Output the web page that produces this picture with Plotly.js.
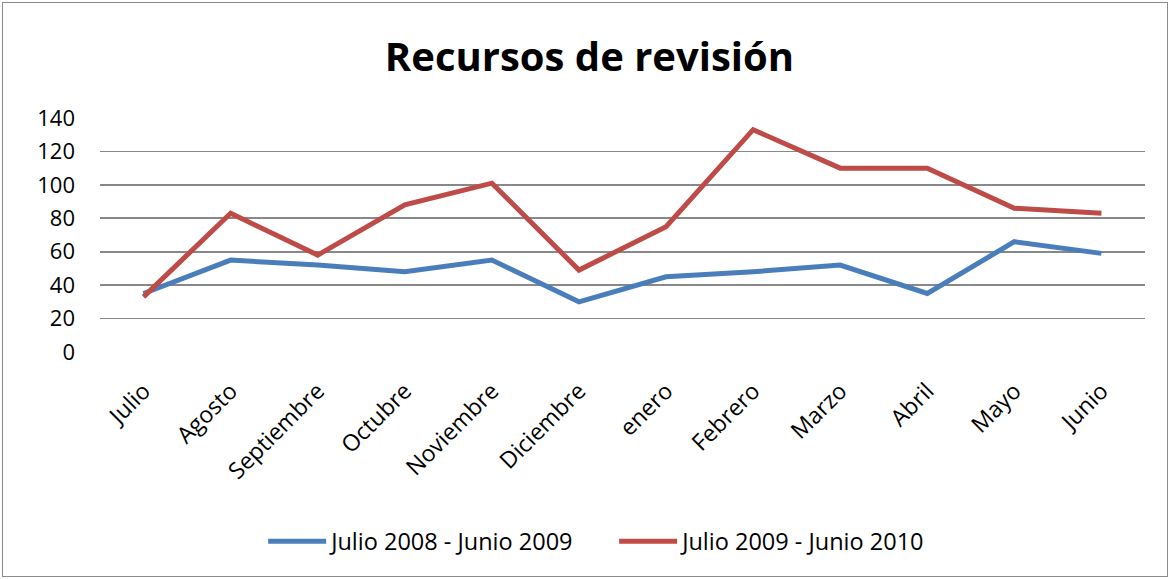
<!DOCTYPE html>
<html>
<head>
<meta charset="utf-8">
<script src="https://cdn.plot.ly/plotly-3.0.1.min.js"></script>
<style>
  html, body { margin: 0; padding: 0; background: #fff; }
  #frame { position: absolute; left: 2px; top: 2px; width: 1166px; height: 575px; border: 1px solid #8a8a8a; box-sizing: border-box; }
  #chart { position: absolute; left: 0; top: 0; width: 1171px; height: 579px; }
</style>
</head>
<body>
<div id="frame"></div>
<div id="chart"></div>
<script>
const months = ["Julio", "Agosto", "Septiembre", "Octubre", "Noviembre", "Diciembre", "enero", "Febrero", "Marzo", "Abril", "Mayo", "Junio"];
const serie2008 = [35, 55, 52, 48, 55, 30, 45, 48, 52, 35, 66, 59];
const serie2009 = [33, 83, 58, 88, 101, 49, 75, 133, 110, 110, 86, 83];
const seriesNames = ["Julio 2008 - Junio 2009", "Julio 2009 - Junio 2010"];
const yTicks = [0, 20, 40, 60, 80, 100, 120, 140];

const FONT = "Open Sans, Lato, sans-serif";

const traces = [
  { x: months, y: serie2008, name: seriesNames[0], type: "scatter", mode: "lines",
    line: { color: "#4a7ebb", width: 5 } },
  { x: months, y: serie2009, name: seriesNames[1], type: "scatter", mode: "lines",
    line: { color: "#be4b48", width: 5 } }
];

const layout = {
  width: 1171, height: 579,
  paper_bgcolor: "rgba(0,0,0,0)", plot_bgcolor: "rgba(0,0,0,0)",
  margin: { l: 100, r: 26, t: 118, b: 227 },
  font: { family: FONT, color: "#000" },
  title: { text: "<b>Recursos de revisión</b>", x: 0.5034, xref: "container", xanchor: "center",
           y: 0.902, yref: "container", yanchor: "middle",
           font: { family: FONT, size: 40, color: "#000" } },
  xaxis: { type: "category", range: [-0.5, 11.5], tickangle: -45, showgrid: false, zeroline: false, showline: false,
           ticks: "", tickfont: { size: 23, family: FONT }, ticklabelstandoff: 20 },
  yaxis: { range: [0, 140], tickvals: yTicks, showgrid: true, gridcolor: "#888888", gridwidth: 1.6,
           zeroline: false, showline: false, ticks: "", tickfont: { size: 22, family: FONT },
           ticklabelstandoff: 24 },
  showlegend: true,
  legend: { orientation: "h", x: 0.492, xref: "paper", xanchor: "center", y: -0.81, yanchor: "middle",
            font: { size: 23.5, family: FONT }, itemwidth: 58, entrywidth: 278, tracegroupgap: 0 }
};

Plotly.newPlot("chart", traces, layout, { displayModeBar: false, staticPlot: true });
</script>
</body>
</html>
